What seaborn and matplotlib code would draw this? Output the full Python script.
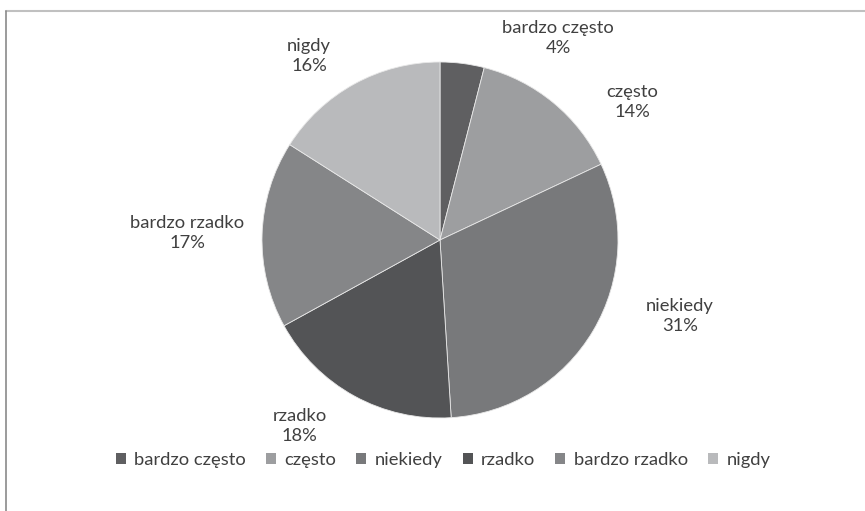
import matplotlib
matplotlib.use("Agg")
import matplotlib.pyplot as plt
import seaborn as sns
from matplotlib.patches import Patch
from matplotlib.lines import Line2D

categories = ["bardzo często", "często", "niekiedy", "rzadko", "bardzo rzadko", "nigdy"]
values = [4, 14, 31, 18, 17, 16]
colors = ["#5f5f61", "#9d9ea0", "#78797b", "#535456", "#858688", "#b9babc"]
# label positions (in units of pie radius), chosen to match the reference layout
label_pos = [(0.663, 1.135), (1.079, 0.775), (1.348, -0.427),
             (-0.787, -1.045), (-1.421, 0.039), (-0.736, 1.034)]

sns.set_theme(style="white")
plt.rcParams["font.family"] = ["Lato", "DejaVu Sans"]

W, H = 865, 511
fig = plt.figure(figsize=(W / 100, H / 100), dpi=100)
ax = fig.add_axes([0, 0, 1, 1])

cx, cy, R = 440, 240, 178
wedges, _ = ax.pie(values, colors=colors, startangle=90, counterclock=False,
                   radius=1, wedgeprops=dict(linewidth=0.6, edgecolor="#e8e8e8"))
ax.set_aspect("auto")
ax.set_xlim(-cx / R, (W - cx) / R)
ax.set_ylim(-(H - cy) / R, cy / R)
ax.axis("off")

for cat, v, (x, y) in zip(categories, values, label_pos):
    ax.text(x, y, f"{cat}\n{v}%", ha="center", va="center", fontsize=13.2,
            color="#404040", linespacing=1.25)

handles = [Patch(facecolor=c, edgecolor="none", label=cat) for c, cat in zip(colors, categories)]
fig.legend(handles=handles, loc="center", bbox_to_anchor=(443 / W, 1 - 460 / H),
           ncol=6, frameon=False, fontsize=13.2, handlelength=0.55, handleheight=0.55,
           handletextpad=0.45, columnspacing=1.1, labelcolor="#404040")

# chart frame (partially visible)
fig.add_artist(Line2D([6 / W, 1], [1 - 11 / H, 1 - 11 / H], color="#c0c0c0", lw=1.5,
                      transform=fig.transFigure))
fig.add_artist(Line2D([6 / W, 6 / W], [0, 1 - 11 / H], color="#8a8a8a", lw=1.2,
                      transform=fig.transFigure))

fig.savefig("out.png", dpi=100, facecolor="white")
